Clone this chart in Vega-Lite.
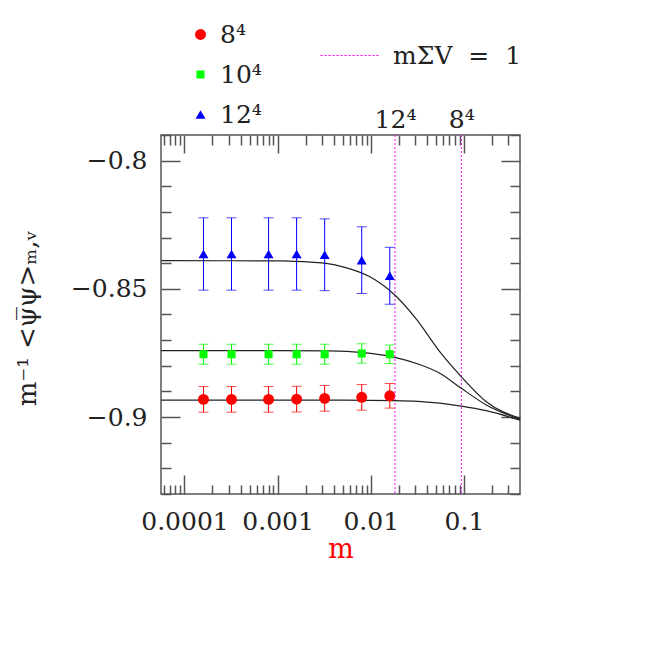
{
  "$schema": "https://vega.github.io/schema/vega-lite/v6.json",
  "width": 359,
  "height": 359,
  "autosize": {"type": "none"},
  "padding": {"left": 161, "top": 135, "right": 134, "bottom": 160},
  "background": "white",
  "datasets": {
    "pts": [
      {"L": "8⁴", "m": 0.00016, "v": -0.8931, "lo": -0.8981, "hi": -0.8881},
      {"L": "8⁴", "m": 0.00032, "v": -0.8931, "lo": -0.8981, "hi": -0.8881},
      {"L": "8⁴", "m": 0.0008, "v": -0.8931, "lo": -0.8981, "hi": -0.8881},
      {"L": "8⁴", "m": 0.0016, "v": -0.8930, "lo": -0.8980, "hi": -0.8880},
      {"L": "8⁴", "m": 0.0032, "v": -0.8927, "lo": -0.8977, "hi": -0.8877},
      {"L": "8⁴", "m": 0.008, "v": -0.8923, "lo": -0.8973, "hi": -0.8873},
      {"L": "8⁴", "m": 0.016, "v": -0.8917, "lo": -0.8965, "hi": -0.8869},
      {"L": "10⁴", "m": 0.00016, "v": -0.8755, "lo": -0.8794, "hi": -0.8716},
      {"L": "10⁴", "m": 0.00032, "v": -0.8755, "lo": -0.8794, "hi": -0.8716},
      {"L": "10⁴", "m": 0.0008, "v": -0.8755, "lo": -0.8794, "hi": -0.8716},
      {"L": "10⁴", "m": 0.0016, "v": -0.8755, "lo": -0.8794, "hi": -0.8716},
      {"L": "10⁴", "m": 0.0032, "v": -0.8755, "lo": -0.8794, "hi": -0.8716},
      {"L": "10⁴", "m": 0.008, "v": -0.8752, "lo": -0.8790, "hi": -0.8714},
      {"L": "10⁴", "m": 0.016, "v": -0.8755, "lo": -0.8791, "hi": -0.8719},
      {"L": "12⁴", "m": 0.00016, "v": -0.8364, "lo": -0.8505, "hi": -0.8223},
      {"L": "12⁴", "m": 0.00032, "v": -0.8364, "lo": -0.8505, "hi": -0.8223},
      {"L": "12⁴", "m": 0.0008, "v": -0.8364, "lo": -0.8505, "hi": -0.8223},
      {"L": "12⁴", "m": 0.0016, "v": -0.8364, "lo": -0.8505, "hi": -0.8223},
      {"L": "12⁴", "m": 0.0032, "v": -0.8367, "lo": -0.8507, "hi": -0.8227},
      {"L": "12⁴", "m": 0.008, "v": -0.8388, "lo": -0.8518, "hi": -0.8258},
      {"L": "12⁴", "m": 0.016, "v": -0.8449, "lo": -0.8560, "hi": -0.8338}
    ],
    "fits": [
      {"L": "12⁴", "m": 0.0000563, "v": -0.8390},
      {"L": "12⁴", "m": 0.0011, "v": -0.8391},
      {"L": "12⁴", "m": 0.0032, "v": -0.8400},
      {"L": "12⁴", "m": 0.0055, "v": -0.8418},
      {"L": "12⁴", "m": 0.0098, "v": -0.8453},
      {"L": "12⁴", "m": 0.0181, "v": -0.8524},
      {"L": "12⁴", "m": 0.031, "v": -0.8619},
      {"L": "12⁴", "m": 0.055, "v": -0.8745},
      {"L": "12⁴", "m": 0.094, "v": -0.8843},
      {"L": "12⁴", "m": 0.174, "v": -0.8940},
      {"L": "12⁴", "m": 0.4, "v": -0.9005},
      {"L": "10⁴", "m": 0.0000563, "v": -0.8741},
      {"L": "10⁴", "m": 0.001, "v": -0.8741},
      {"L": "10⁴", "m": 0.0036, "v": -0.8742},
      {"L": "10⁴", "m": 0.0083, "v": -0.8749},
      {"L": "10⁴", "m": 0.0181, "v": -0.8767},
      {"L": "10⁴", "m": 0.0322, "v": -0.8793},
      {"L": "10⁴", "m": 0.055, "v": -0.8829},
      {"L": "10⁴", "m": 0.094, "v": -0.8888},
      {"L": "10⁴", "m": 0.174, "v": -0.8953},
      {"L": "10⁴", "m": 0.4, "v": -0.9009},
      {"L": "8⁴", "m": 0.0000563, "v": -0.8934},
      {"L": "8⁴", "m": 0.0036, "v": -0.8934},
      {"L": "8⁴", "m": 0.0181, "v": -0.8936},
      {"L": "8⁴", "m": 0.0322, "v": -0.8939},
      {"L": "8⁴", "m": 0.094, "v": -0.8957},
      {"L": "8⁴", "m": 0.174, "v": -0.8975},
      {"L": "8⁴", "m": 0.4, "v": -0.9012}
    ],
    "vlines": [
      {"m": 0.0182, "lab": "mΣV\u00a0\u00a0=\u00a0\u00a01"},
      {"m": 0.0938, "lab": "mΣV\u00a0\u00a0=\u00a0\u00a01"}
    ]
  },
  "resolve": {
    "axis": {"x": "independent", "y": "independent"},
    "legend": {"color": "independent", "shape": "independent", "size": "independent"}
  },
  "layer": [
    {
      "data": {"name": "vlines"},
      "mark": {"type": "rule", "color": "#ff00ff", "strokeWidth": 1},
      "encoding": {
        "x": {"field": "m", "type": "quantitative", "scale": {"type": "log", "domain": [0.000056, 0.4], "nice": false}, "axis": null},
        "strokeDash": {"field": "lab", "type": "nominal", "scale": {"range": [[2, 2]]},
          "legend": {"orient": "none", "legendX": 159, "legendY": -110, "title": null, "padding": 0, "symbolType": "stroke", "symbolSize": 3600, "symbolStrokeColor": "#ff00ff", "symbolStrokeWidth": 1, "labelFont": "DejaVu Serif", "labelFontSize": 25, "labelColor": "#222", "labelOffset": 12, "labelLimit": 300}}
      }
    },
    {
      "data": {"name": "fits"},
      "mark": {"type": "line", "color": "#222", "strokeWidth": 1.2, "interpolate": "monotone"},
      "encoding": {
        "x": {"field": "m", "type": "quantitative", "scale": {"type": "log", "domain": [0.000056, 0.4], "nice": false}, "axis": null},
        "y": {"field": "v", "type": "quantitative", "scale": {"domain": [-0.93, -0.79], "nice": false, "zero": false}, "axis": null},
        "detail": {"field": "L"}
      }
    },
    {
      "data": {"name": "pts"},
      "mark": {"type": "rule", "strokeWidth": 1},
      "encoding": {
        "x": {"field": "m", "type": "quantitative", "axis": null},
        "y": {"field": "lo", "type": "quantitative", "axis": null},
        "y2": {"field": "hi"},
        "color": {"field": "L", "type": "nominal", "scale": {"domain": ["8⁴", "10⁴", "12⁴"], "range": ["#ff0000", "#00ff00", "#0000ff"]}, "legend": null}
      }
    },
    {
      "data": {"name": "pts"},
      "mark": {"type": "tick", "orient": "horizontal", "size": 10, "thickness": 1},
      "encoding": {
        "x": {"field": "m", "type": "quantitative", "axis": null},
        "y": {"field": "lo", "type": "quantitative", "axis": null},
        "color": {"field": "L", "type": "nominal", "legend": null}
      }
    },
    {
      "data": {"name": "pts"},
      "mark": {"type": "tick", "orient": "horizontal", "size": 10, "thickness": 1},
      "encoding": {
        "x": {"field": "m", "type": "quantitative", "axis": null},
        "y": {"field": "hi", "type": "quantitative", "axis": null},
        "color": {"field": "L", "type": "nominal", "legend": null}
      }
    },
    {
      "data": {"name": "pts"},
      "mark": {"type": "point", "filled": true, "opacity": 1},
      "encoding": {
        "x": {"field": "m", "type": "quantitative", "axis": null},
        "y": {"field": "v", "type": "quantitative", "axis": null},
        "color": {"field": "L", "type": "nominal",
          "legend": {"orient": "none", "legendX": 27, "legendY": -113, "title": null, "padding": 0, "symbolSize": {"expr": "datum.label == '12⁴' ? 210 : datum.label == '10⁴' ? 150 : 190"}, "symbolStrokeWidth": 0, "labelFont": "DejaVu Serif", "labelFontSize": 25, "labelColor": "#222", "labelOffset": 7, "rowPadding": 14}},
        "shape": {"field": "L", "type": "nominal", "scale": {"domain": ["8⁴", "10⁴", "12⁴"], "range": ["circle", "square", "triangle-up"]},
          "legend": {"orient": "none", "legendX": 27, "legendY": -113, "title": null, "padding": 0, "symbolSize": {"expr": "datum.label == '12⁴' ? 210 : datum.label == '10⁴' ? 150 : 190"}, "symbolStrokeWidth": 0, "labelFont": "DejaVu Serif", "labelFontSize": 25, "labelColor": "#222", "labelOffset": 7, "rowPadding": 14}},
        "size": {"field": "L", "type": "nominal", "scale": {"type": "ordinal", "domain": ["8⁴", "10⁴", "12⁴"], "range": [120, 65, 100]}, "legend": null}
      }
    },
    {
      "data": {"name": "pts"},
      "mark": {"type": "point", "opacity": 0},
      "encoding": {
        "x": {"field": "m", "type": "quantitative",
          "axis": {"orient": "bottom", "values": [0.0001, 0.001, 0.01, 0.1], "format": "~g", "ticks": false, "labelPadding": 15, "labelFlush": false, "labelOverlap": false, "labelBound": false,
            "title": "m", "titleColor": "#ff0000", "titleFont": "DejaVu Serif", "titleFontSize": 27, "titleFontWeight": "normal", "titleX": 179.5, "titleY": 63, "titleAlign": "center", "titleBaseline": "alphabetic"}},
        "y": {"field": "v", "type": "quantitative",
          "axis": {"orient": "left", "values": [-0.8, -0.85, -0.9], "format": "~g", "ticks": false, "labelPadding": 14, "labelOverlap": false, "labelBound": false, "labelFlush": false,
            "title": "m⁻¹  <ψ̅ψ>ₘ,ᵥ", "titleColor": "#222", "titleFont": "DejaVu Serif", "titleFontSize": 26, "titleFontWeight": "normal", "titleX": -126, "titleY": 183, "titleAngle": 270, "titleAlign": "center", "titleBaseline": "alphabetic"}}
      }
    },
    {
      "data": {"name": "pts"},
      "mark": {"type": "point", "opacity": 0},
      "encoding": {
        "x": {"field": "m", "type": "quantitative",
          "axis": {"orient": "bottom", "values": [0.0001, 0.001, 0.01, 0.1], "labels": false, "tickSize": -19, "title": null}},
        "y": {"field": "v", "type": "quantitative",
          "axis": {"orient": "left", "values": [-0.8, -0.85, -0.9], "labels": false, "tickSize": -19, "title": null}}
      }
    },
    {
      "data": {"name": "pts"},
      "mark": {"type": "point", "opacity": 0},
      "encoding": {
        "x": {"field": "m", "type": "quantitative",
          "axis": {"orient": "bottom", "values": [0.00006, 0.00007, 0.00008, 0.00009, 0.0002, 0.0003, 0.0004, 0.0005, 0.0006, 0.0007, 0.0008, 0.0009, 0.002, 0.003, 0.004, 0.005, 0.006, 0.007, 0.008, 0.009, 0.02, 0.03, 0.04, 0.05, 0.06, 0.07, 0.08, 0.09, 0.2, 0.3], "labels": false, "tickSize": -9, "title": null}},
        "y": {"field": "v", "type": "quantitative",
          "axis": {"orient": "left", "values": [-0.79, -0.81, -0.82, -0.83, -0.84, -0.86, -0.87, -0.88, -0.89, -0.91, -0.92, -0.93], "labels": false, "tickSize": -10, "title": null}}
      }
    },
    {
      "data": {"name": "pts"},
      "mark": {"type": "point", "opacity": 0},
      "encoding": {
        "x": {"field": "m", "type": "quantitative",
          "axis": {"orient": "top", "values": [0.0001, 0.001, 0.01, 0.1], "labels": false, "tickSize": -18, "title": null}},
        "y": {"field": "v", "type": "quantitative",
          "axis": {"orient": "right", "values": [-0.8, -0.85, -0.9], "labels": false, "tickSize": -19, "title": null}}
      }
    },
    {
      "data": {"name": "pts"},
      "mark": {"type": "point", "opacity": 0},
      "encoding": {
        "x": {"field": "m", "type": "quantitative",
          "axis": {"orient": "top", "values": [0.00006, 0.00007, 0.00008, 0.00009, 0.0002, 0.0003, 0.0004, 0.0005, 0.0006, 0.0007, 0.0008, 0.0009, 0.002, 0.003, 0.004, 0.005, 0.006, 0.007, 0.008, 0.009, 0.02, 0.03, 0.04, 0.05, 0.06, 0.07, 0.08, 0.09, 0.2, 0.3], "labels": false, "tickSize": -10, "title": null}},
        "y": {"field": "v", "type": "quantitative",
          "axis": {"orient": "right", "values": [-0.79, -0.81, -0.82, -0.83, -0.84, -0.86, -0.87, -0.88, -0.89, -0.91, -0.92, -0.93], "labels": false, "tickSize": -10, "title": null}}
      }
    },
    {
      "data": {"name": "vlines"},
      "mark": {"type": "point", "opacity": 0},
      "encoding": {
        "x": {"field": "m", "type": "quantitative",
          "axis": {"orient": "top", "values": [0.0182, 0.0938], "labelExpr": "datum.value < 0.05 ? '12⁴' : '8⁴'", "ticks": false, "labelPadding": 3, "labelOverlap": false, "labelBound": false, "labelFlush": false, "title": null}}
      }
    }
  ],
  "config": {
    "view": {"stroke": "#555", "strokeWidth": 1.5},
    "axis": {"grid": false, "domain": false, "tickColor": "#555", "tickWidth": 1.5, "labelFont": "DejaVu Serif", "labelFontSize": 25, "labelColor": "#222"},
    "legend": {"padding": 0}
  }
}
